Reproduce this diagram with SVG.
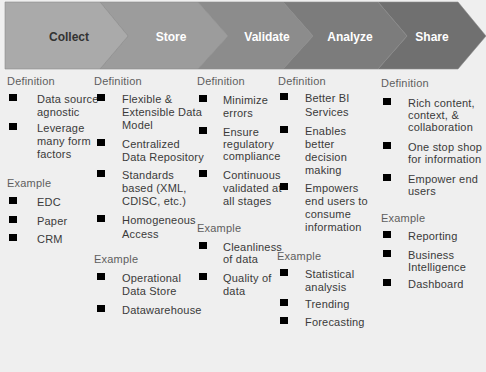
<svg xmlns="http://www.w3.org/2000/svg" width="486" height="372" viewBox="0 0 486 372">
<defs>
<style>
.bg{fill:#efefef}
.chev{stroke:#8a8a8a;stroke-width:0.6}
.lbl{font-family:"Liberation Sans",Arial,sans-serif;font-size:12px;font-weight:bold;text-anchor:middle}
.hd{font-family:"Liberation Sans",Arial,sans-serif;font-size:11px;fill:#5e5e5e;letter-spacing:0.2px}
.it{font-family:"Liberation Sans",Arial,sans-serif;font-size:11px;fill:#3a3a3a;letter-spacing:0.2px}
.b{fill:#000000}
</style>
<linearGradient id="fade" x1="0" y1="0" x2="0" y2="1">
<stop offset="0" stop-color="#efefef"/>
<stop offset="0.85" stop-color="#f1f1f1"/>
<stop offset="1" stop-color="#f7f7f7"/>
</linearGradient>
</defs>
<rect class="bg" x="0" y="0" width="486" height="372" fill="url(#fade)"/>

<g id="connectors"/>

<g id="share">
<polygon class="chev" fill="#707070" points="378,2 458,2 486,36 458,69 378,69 407,36"/>
<text class="lbl" x="432" y="41" fill="#ffffff">Share</text>
<text class="hd" x="381" y="87">Definition</text>
<rect class="b" x="383" y="98" width="8" height="7"/>
<text class="it" x="408" y="107">Rich content,</text>
<text class="it" x="408" y="119">context, &amp;</text>
<text class="it" x="408" y="131">collaboration</text>
<rect class="b" x="383" y="142" width="8" height="7"/>
<text class="it" x="408" y="151">One stop shop</text>
<text class="it" x="408" y="163">for information</text>
<rect class="b" x="383" y="174" width="8" height="7"/>
<text class="it" x="408" y="183">Empower end</text>
<text class="it" x="408" y="195">users</text>
<text class="hd" x="381" y="222">Example</text>
<rect class="b" x="383" y="231" width="8" height="7"/>
<text class="it" x="408" y="240">Reporting</text>
<rect class="b" x="383" y="250" width="8" height="7"/>
<text class="it" x="408" y="259">Business</text>
<text class="it" x="408" y="271">Intelligence</text>
<rect class="b" x="383" y="279" width="8" height="7"/>
<text class="it" x="408" y="288">Dashboard</text>
</g>

<g id="analyze">
<polygon class="chev" fill="#7c7c7c" points="283,2 378,2 407,36 378,69 283,69 313,36"/>
<text class="lbl" x="350" y="41" fill="#ffffff">Analyze</text>
<text class="hd" x="278" y="85">Definition</text>
<rect class="b" x="280" y="93" width="8" height="7"/>
<text class="it" x="305" y="102">Better BI</text>
<text class="it" x="305" y="116">Services</text>
<rect class="b" x="280" y="126" width="8" height="7"/>
<text class="it" x="305" y="135">Enables</text>
<text class="it" x="305" y="148">better</text>
<text class="it" x="305" y="161">decision</text>
<text class="it" x="305" y="174">making</text>
<rect class="b" x="280" y="183" width="8" height="7"/>
<text class="it" x="305" y="192">Empowers</text>
<text class="it" x="305" y="205">end users to</text>
<text class="it" x="305" y="218">consume</text>
<text class="it" x="305" y="231">information</text>
<text class="hd" x="277" y="260">Example</text>
<rect class="b" x="280" y="269" width="8" height="7"/>
<text class="it" x="305" y="278">Statistical</text>
<text class="it" x="305" y="291">analysis</text>
<rect class="b" x="280" y="299" width="8" height="7"/>
<text class="it" x="305" y="308">Trending</text>
<rect class="b" x="280" y="317" width="8" height="7"/>
<text class="it" x="305" y="326">Forecasting</text>
</g>

<g id="validate">
<polygon class="chev" fill="#8c8c8c" points="198,2 283,2 313,36 283,69 198,69 228,36"/>
<text class="lbl" x="267" y="41" fill="#ffffff">Validate</text>
<text class="hd" x="197" y="85">Definition</text>
<rect class="b" x="199" y="95" width="8" height="7"/>
<text class="it" x="223" y="104">Minimize</text>
<text class="it" x="223" y="117">errors</text>
<rect class="b" x="199" y="127" width="8" height="7"/>
<text class="it" x="223" y="136">Ensure</text>
<text class="it" x="223" y="148">regulatory</text>
<text class="it" x="223" y="160">compliance</text>
<rect class="b" x="199" y="170" width="8" height="7"/>
<text class="it" x="223" y="179">Continuous</text>
<text class="it" x="223" y="192">validated at</text>
<text class="it" x="223" y="205">all stages</text>
<text class="hd" x="197" y="232">Example</text>
<rect class="b" x="199" y="242" width="8" height="7"/>
<text class="it" x="223" y="251">Cleanliness</text>
<text class="it" x="223" y="263">of data</text>
<rect class="b" x="199" y="273" width="8" height="7"/>
<text class="it" x="223" y="282">Quality of</text>
<text class="it" x="223" y="295">data</text>
</g>

<g id="store">
<polygon class="chev" fill="#9c9c9c" points="100,2 198,2 228,36 198,69 100,69 128,36"/>
<text class="lbl" x="171" y="41" fill="#ffffff">Store</text>
<text class="hd" x="94" y="85">Definition</text>
<rect class="b" x="97" y="94" width="8" height="7"/>
<text class="it" x="122" y="103">Flexible &amp;</text>
<text class="it" x="122" y="116">Extensible Data</text>
<text class="it" x="122" y="129">Model</text>
<rect class="b" x="97" y="139" width="8" height="7"/>
<text class="it" x="122" y="148">Centralized</text>
<text class="it" x="122" y="161">Data Repository</text>
<rect class="b" x="97" y="170" width="8" height="7"/>
<text class="it" x="122" y="179">Standards</text>
<text class="it" x="122" y="192">based (XML,</text>
<text class="it" x="122" y="205">CDISC, etc.)</text>
<rect class="b" x="97" y="215" width="8" height="7"/>
<text class="it" x="122" y="224">Homogeneous</text>
<text class="it" x="122" y="238">Access</text>
<text class="hd" x="94" y="263">Example</text>
<rect class="b" x="97" y="273" width="8" height="7"/>
<text class="it" x="122" y="282">Operational</text>
<text class="it" x="122" y="295">Data Store</text>
<rect class="b" x="97" y="305" width="8" height="7"/>
<text class="it" x="122" y="314">Datawarehouse</text>
</g>

<g id="collect">
<polygon class="chev" fill="#aaaaaa" points="5,2 100,2 128,36 100,69 5,69"/>
<text class="lbl" x="69" y="41" fill="#333333">Collect</text>
<text class="hd" x="7" y="85">Definition</text>
<rect class="b" x="9" y="94" width="8" height="7"/>
<text class="it" x="37" y="103">Data source</text>
<text class="it" x="37" y="116">agnostic</text>
<rect class="b" x="9" y="123" width="8" height="7"/>
<text class="it" x="37" y="132">Leverage</text>
<text class="it" x="37" y="145">many form</text>
<text class="it" x="37" y="158">factors</text>
<text class="hd" x="7" y="187">Example</text>
<rect class="b" x="9" y="197" width="8" height="7"/>
<text class="it" x="37" y="206">EDC</text>
<rect class="b" x="9" y="216" width="8" height="7"/>
<text class="it" x="37" y="225">Paper</text>
<rect class="b" x="9" y="234" width="8" height="7"/>
<text class="it" x="37" y="243">CRM</text>
</g>
<rect class="b" x="97" y="94" width="8" height="7"/>
<rect class="b" x="97" y="139" width="8" height="7"/>
<rect class="b" x="199" y="95" width="8" height="7"/>
<rect class="b" x="280" y="183" width="8" height="7"/>
</svg>
